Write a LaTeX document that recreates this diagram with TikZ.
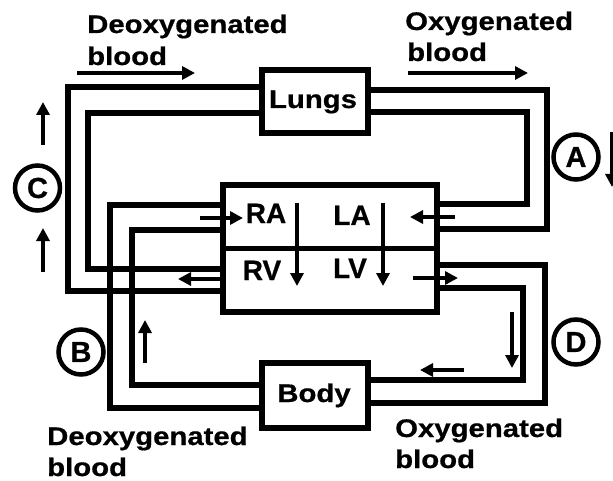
\documentclass[tikz,border=0pt]{standalone}
\usepackage{fontspec}
\setmainfont{Liberation Sans}[BoldFeatures={FakeBold=0.6}]
\usetikzlibrary{arrows.meta}
\newcommand{\wtxt}[1]{\scalebox{1.15}[1]{#1}}
\tikzset{
  pipe/.style={line width=5.5pt},
  flow/.style={line width=4.5pt, -{Triangle[length=13pt,width=13pt]}},
  organ/.style={draw, line width=5.5pt, inner sep=0pt, fill=white},
  lbl/.style={font=\fontsize{25.5}{30}\selectfont\bfseries, inner sep=0pt, anchor=base west},
  olbl/.style={font=\fontsize{25.5}{30}\selectfont\bfseries, inner sep=0pt, anchor=base},
  clbl/.style={font=\fontsize{28}{30}\selectfont\bfseries, inner sep=0pt, anchor=base},
  ring/.style={circle, draw, line width=4.5pt, minimum size=45pt, inner sep=0pt, fill=white,
    font=\fontsize{29}{30}\selectfont\bfseries}
}
\begin{document}
\begin{tikzpicture}[x=1pt,y=-1pt]
\useasboundingbox (0,0) rectangle (613,481);
% organ boxes
\node[organ, minimum width=106pt, minimum height=63pt] (lungs) at (315,101.5) {};
\node[organ, minimum width=106pt, minimum height=65pt] (body) at (315,395.5) {};
\node[organ, minimum width=214pt, minimum height=127pt] (heart) at (330,248.5) {};
\draw[pipe] (heart.west) -- (heart.east);
% pipes lungs left (deoxygenated to lungs)
\draw[pipe] (lungs.west |- 0,87) -- (68,87) |- (heart.west |- 0,291);
\draw[pipe] (lungs.west |- 0,113) -- (88,113) |- (heart.west |- 0,269);
% pipes body to RA
\draw[pipe] (heart.west |- 0,205) -- (110,205) |- (body.west |- 0,408);
\draw[pipe] (heart.west |- 0,230) -- (132,230) |- (body.west |- 0,385);
% pipes lungs right to LA
\draw[pipe] (lungs.east |- 0,90) -- (547,90) |- (heart.east |- 0,229);
\draw[pipe] (lungs.east |- 0,112) -- (527,112) |- (heart.east |- 0,204);
% pipes LV to body
\draw[pipe] (heart.east |- 0,265) -- (545,265) |- (body.east |- 0,403);
\draw[pipe] (heart.east |- 0,288) -- (523,288) |- (body.east |- 0,380);
% texts in boxes
\node[olbl] (tlungs) at (313,108) {\wtxt{Lungs}};
\node[olbl] (tbody) at (314,402) {\wtxt{Body}};
\node[clbl] (tra) at (266,223) {RA};
\node[clbl] (tla) at (352,225) {LA};
\node[clbl] (trv) at (262,280) {RV};
\node[clbl] (tlv) at (350,278) {LV};
% flow arrows
\coordinate (f1a) at (77,73);   \coordinate (f1b) at (195,73);
\coordinate (f2a) at (408,73);  \coordinate (f2b) at (528,73);
\coordinate (f3a) at (43,145);  \coordinate (f3b) at (43,102);
\coordinate (f4a) at (43,272);  \coordinate (f4b) at (43,228);
\coordinate (f5a) at (612,132); \coordinate (f5b) at (612,187);
\coordinate (f6a) at (200,218); \coordinate (f6b) at (243,218);
\coordinate (f7a) at (455,217); \coordinate (f7b) at (410,217);
\coordinate (f8a) at (223,279); \coordinate (f8b) at (178,279);
\coordinate (f9a) at (413,278); \coordinate (f9b) at (458,278);
\coordinate (f10a) at (297,203); \coordinate (f10b) at (297,286);
\coordinate (f11a) at (383,203); \coordinate (f11b) at (383,286);
\coordinate (f12a) at (512,312); \coordinate (f12b) at (512,368);
\coordinate (f13a) at (464,370); \coordinate (f13b) at (420,370);
\coordinate (f14a) at (145,363); \coordinate (f14b) at (145,320);
\foreach \i in {1,...,14} {\draw[flow] (f\i a) -- (f\i b);}
% circles
\node[ring] (cA) at (576,157) {A};
\node[ring] (cB) at (81,352) {B};
\node[ring] (cC) at (37.5,188) {C};
\node[ring] (cD) at (576,342) {D};
% labels
\node[lbl] (d1) at (87,33) {\wtxt{Deoxygenated}};
\node[lbl] (d2) at (87,65) {\wtxt{blood}};
\node[lbl] (o1) at (405,30) {\wtxt{Oxygenated}};
\node[lbl] (o2) at (407,61) {\wtxt{blood}};
\node[lbl] (d3) at (47,445) {\wtxt{Deoxygenated}};
\node[lbl] (d4) at (47,476) {\wtxt{blood}};
\node[lbl] (o3) at (395,437) {\wtxt{Oxygenated}};
\node[lbl] (o4) at (395,468) {\wtxt{blood}};
\end{tikzpicture}
\end{document}
